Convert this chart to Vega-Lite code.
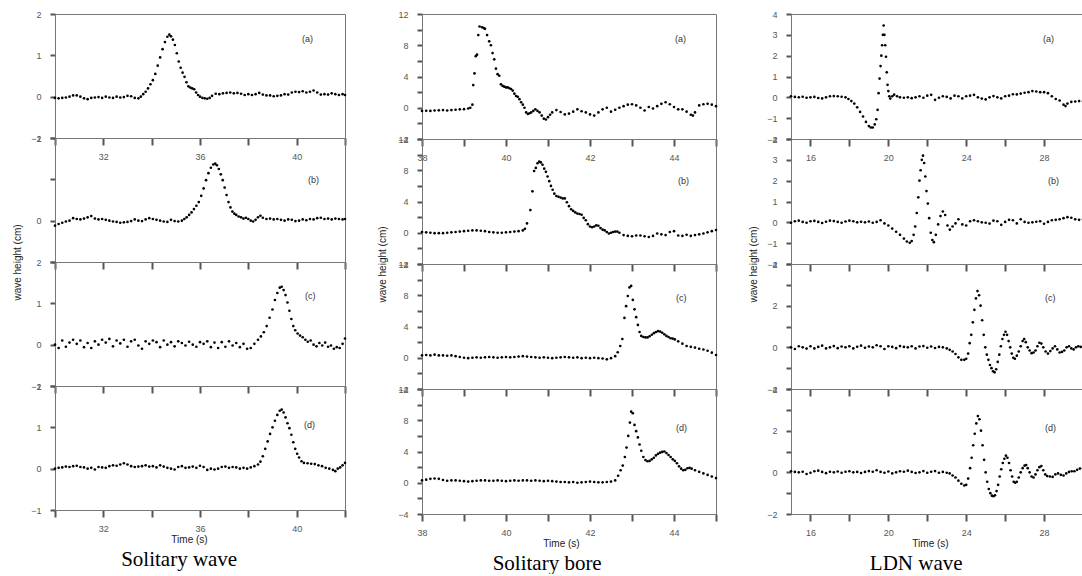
{
"$schema":"https://vega.github.io/schema/vega-lite/v6.json",
"padding":{"left":11,"top":9,"right":0,"bottom":0},
"config":{
 "font":"Liberation Sans",
 "view":{"stroke":"#777"},
 "title":{"font":"Liberation Sans","fontSize":9,"fontWeight":"normal","color":"#333"},
 "axis":{"grid":false,"ticks":true,"domain":true,"labelFont":"Liberation Sans","labelFontSize":9,"labelColor":"#555","domainColor":"#777","labelFlush":false,"labelOverlap":false,"labelBound":false,"titleFont":"Liberation Sans","titleFontSize":10,"titleFontWeight":"normal","titleColor":"#222"},
 "axisX":{"labelPadding":7},
 "axisY":{"labelPadding":9}
},
"datasets":{
"a1":[{"t":30,"h":-0.03},{"t":30.15,"h":-0.04},{"t":30.3,"h":-0.03},{"t":30.45,"h":-0.02},{"t":30.6,"h":0},{"t":30.75,"h":0.03},{"t":30.9,"h":0.03},{"t":31.05,"h":0},{"t":31.2,"h":-0.04},{"t":31.35,"h":-0.06},{"t":31.5,"h":-0.03},{"t":31.65,"h":-0.02},{"t":31.8,"h":-0.01},{"t":31.95,"h":-0.03},{"t":32.1,"h":0},{"t":32.25,"h":-0.02},{"t":32.4,"h":-0.03},{"t":32.55,"h":0},{"t":32.7,"h":-0.02},{"t":32.85,"h":-0.01},{"t":33,"h":0.02},{"t":33.15,"h":0.01},{"t":33.3,"h":-0.03},{"t":33.45,"h":-0.04},{"t":33.55,"h":0},{"t":33.65,"h":0.06},{"t":33.75,"h":0.12},{"t":33.85,"h":0.2},{"t":33.95,"h":0.3},{"t":34.05,"h":0.4},{"t":34.15,"h":0.55},{"t":34.25,"h":0.75},{"t":34.35,"h":0.95},{"t":34.45,"h":1.15},{"t":34.55,"h":1.32},{"t":34.65,"h":1.45},{"t":34.73,"h":1.5},{"t":34.8,"h":1.46},{"t":34.88,"h":1.38},{"t":34.96,"h":1.25},{"t":35.04,"h":1.05},{"t":35.12,"h":0.85},{"t":35.2,"h":0.7},{"t":35.28,"h":0.58},{"t":35.36,"h":0.48},{"t":35.44,"h":0.35},{"t":35.52,"h":0.25},{"t":35.6,"h":0.22},{"t":35.68,"h":0.2},{"t":35.76,"h":0.18},{"t":35.84,"h":0.1},{"t":35.92,"h":0.04},{"t":36,"h":0},{"t":36.1,"h":-0.03},{"t":36.2,"h":-0.04},{"t":36.3,"h":-0.05},{"t":36.4,"h":-0.03},{"t":36.5,"h":0.02},{"t":36.65,"h":0.07},{"t":36.8,"h":0.06},{"t":36.95,"h":0.08},{"t":37.1,"h":0.09},{"t":37.25,"h":0.1},{"t":37.4,"h":0.08},{"t":37.55,"h":0.09},{"t":37.7,"h":0.07},{"t":37.85,"h":0.04},{"t":38,"h":0.06},{"t":38.15,"h":0.04},{"t":38.3,"h":0.06},{"t":38.45,"h":0.09},{"t":38.6,"h":0.05},{"t":38.75,"h":0.03},{"t":38.9,"h":0.03},{"t":39.05,"h":0.01},{"t":39.2,"h":0.02},{"t":39.35,"h":0.03},{"t":39.5,"h":0.06},{"t":39.65,"h":0.05},{"t":39.8,"h":0.1},{"t":39.95,"h":0.12},{"t":40.1,"h":0.11},{"t":40.25,"h":0.13},{"t":40.4,"h":0.1},{"t":40.55,"h":0.12},{"t":40.7,"h":0.15},{"t":40.85,"h":0.1},{"t":41,"h":0.05},{"t":41.15,"h":0.06},{"t":41.3,"h":0.05},{"t":41.45,"h":0.08},{"t":41.6,"h":0.06},{"t":41.75,"h":0.04},{"t":41.9,"h":0.06},{"t":42,"h":0.04}],
"b1":[{"t":30,"h":-0.12},{"t":30.15,"h":-0.08},{"t":30.3,"h":-0.05},{"t":30.45,"h":-0.02},{"t":30.6,"h":0},{"t":30.75,"h":0.06},{"t":30.9,"h":0.04},{"t":31.05,"h":0.03},{"t":31.2,"h":0.05},{"t":31.35,"h":0.08},{"t":31.5,"h":0.11},{"t":31.65,"h":0.05},{"t":31.8,"h":0.03},{"t":31.95,"h":0.04},{"t":32.1,"h":0.02},{"t":32.25,"h":0},{"t":32.4,"h":-0.02},{"t":32.55,"h":-0.03},{"t":32.7,"h":-0.05},{"t":32.85,"h":-0.04},{"t":33,"h":-0.03},{"t":33.15,"h":-0.01},{"t":33.3,"h":0.03},{"t":33.45,"h":0},{"t":33.6,"h":-0.01},{"t":33.75,"h":0.03},{"t":33.9,"h":0.06},{"t":34.05,"h":0.04},{"t":34.2,"h":0.02},{"t":34.35,"h":0},{"t":34.5,"h":-0.02},{"t":34.65,"h":-0.03},{"t":34.8,"h":0.02},{"t":34.95,"h":-0.01},{"t":35.1,"h":-0.02},{"t":35.25,"h":0},{"t":35.35,"h":0.04},{"t":35.45,"h":0.08},{"t":35.55,"h":0.14},{"t":35.65,"h":0.2},{"t":35.75,"h":0.28},{"t":35.85,"h":0.36},{"t":35.95,"h":0.45},{"t":36.05,"h":0.6},{"t":36.15,"h":0.78},{"t":36.25,"h":0.98},{"t":36.35,"h":1.15},{"t":36.45,"h":1.28},{"t":36.55,"h":1.36},{"t":36.63,"h":1.38},{"t":36.7,"h":1.34},{"t":36.78,"h":1.25},{"t":36.86,"h":1.12},{"t":36.94,"h":0.98},{"t":37.02,"h":0.8},{"t":37.1,"h":0.62},{"t":37.18,"h":0.45},{"t":37.26,"h":0.32},{"t":37.34,"h":0.22},{"t":37.42,"h":0.17},{"t":37.5,"h":0.14},{"t":37.6,"h":0.1},{"t":37.7,"h":0.08},{"t":37.8,"h":0.05},{"t":37.9,"h":0.07},{"t":38,"h":0.04},{"t":38.1,"h":0},{"t":38.2,"h":-0.02},{"t":38.3,"h":0.02},{"t":38.4,"h":0.08},{"t":38.5,"h":0.12},{"t":38.6,"h":0.07},{"t":38.75,"h":0.04},{"t":38.9,"h":0.05},{"t":39.05,"h":0.03},{"t":39.2,"h":0.04},{"t":39.35,"h":0.02},{"t":39.5,"h":0},{"t":39.65,"h":0.03},{"t":39.8,"h":0.02},{"t":39.95,"h":-0.01},{"t":40.1,"h":0},{"t":40.25,"h":0.03},{"t":40.4,"h":0.01},{"t":40.55,"h":0.04},{"t":40.7,"h":0.03},{"t":40.85,"h":0.06},{"t":41,"h":0.07},{"t":41.15,"h":0.04},{"t":41.3,"h":0.05},{"t":41.45,"h":0.03},{"t":41.6,"h":0.05},{"t":41.75,"h":0.04},{"t":41.9,"h":0.03},{"t":42,"h":0.04}],
"c1":[{"t":30,"h":0},{"t":30.15,"h":-0.08},{"t":30.3,"h":0.1},{"t":30.45,"h":-0.05},{"t":30.6,"h":0.05},{"t":30.75,"h":0.12},{"t":30.9,"h":0.02},{"t":31.05,"h":0.1},{"t":31.2,"h":-0.06},{"t":31.35,"h":0.04},{"t":31.5,"h":-0.08},{"t":31.65,"h":0.08},{"t":31.8,"h":0},{"t":31.95,"h":0.12},{"t":32.1,"h":0.05},{"t":32.25,"h":0.14},{"t":32.4,"h":-0.04},{"t":32.55,"h":0.1},{"t":32.7,"h":0.03},{"t":32.85,"h":0.12},{"t":33,"h":-0.05},{"t":33.15,"h":0.08},{"t":33.3,"h":0.12},{"t":33.45,"h":-0.02},{"t":33.6,"h":-0.1},{"t":33.75,"h":0.08},{"t":33.9,"h":0.02},{"t":34.05,"h":0.1},{"t":34.2,"h":0.06},{"t":34.35,"h":-0.06},{"t":34.5,"h":0.1},{"t":34.65,"h":0},{"t":34.8,"h":0.06},{"t":34.95,"h":-0.04},{"t":35.1,"h":0.08},{"t":35.25,"h":0.04},{"t":35.4,"h":-0.02},{"t":35.55,"h":0.07},{"t":35.7,"h":0},{"t":35.85,"h":-0.05},{"t":36,"h":0.06},{"t":36.15,"h":0.02},{"t":36.3,"h":0.08},{"t":36.45,"h":-0.06},{"t":36.6,"h":0.05},{"t":36.75,"h":-0.08},{"t":36.9,"h":0.06},{"t":37.05,"h":-0.05},{"t":37.2,"h":0.08},{"t":37.35,"h":-0.02},{"t":37.5,"h":0.04},{"t":37.65,"h":-0.06},{"t":37.8,"h":0.02},{"t":37.95,"h":-0.1},{"t":38.1,"h":-0.08},{"t":38.25,"h":0.02},{"t":38.4,"h":0.12},{"t":38.52,"h":0.2},{"t":38.64,"h":0.3},{"t":38.76,"h":0.45},{"t":38.88,"h":0.65},{"t":39,"h":0.85},{"t":39.1,"h":1.08},{"t":39.2,"h":1.25},{"t":39.3,"h":1.38},{"t":39.38,"h":1.4},{"t":39.46,"h":1.32},{"t":39.54,"h":1.2},{"t":39.62,"h":1.02},{"t":39.7,"h":0.82},{"t":39.78,"h":0.62},{"t":39.86,"h":0.45},{"t":39.94,"h":0.35},{"t":40.04,"h":0.27},{"t":40.14,"h":0.22},{"t":40.25,"h":0.18},{"t":40.36,"h":0.12},{"t":40.46,"h":0.07},{"t":40.58,"h":0.1},{"t":40.7,"h":0},{"t":40.82,"h":-0.04},{"t":40.94,"h":0.04},{"t":41.06,"h":-0.02},{"t":41.18,"h":0.05},{"t":41.3,"h":-0.05},{"t":41.42,"h":-0.02},{"t":41.54,"h":-0.1},{"t":41.66,"h":-0.06},{"t":41.78,"h":-0.08},{"t":41.9,"h":0.02},{"t":42,"h":0.15}],
"d1":[{"t":30,"h":0},{"t":30.15,"h":0.02},{"t":30.3,"h":0.03},{"t":30.45,"h":0.05},{"t":30.6,"h":0.04},{"t":30.75,"h":0.06},{"t":30.9,"h":0.07},{"t":31.05,"h":0.04},{"t":31.2,"h":0.03},{"t":31.35,"h":0},{"t":31.5,"h":0.02},{"t":31.65,"h":-0.02},{"t":31.8,"h":0.04},{"t":31.95,"h":0.03},{"t":32.1,"h":0.02},{"t":32.25,"h":0.06},{"t":32.4,"h":0.08},{"t":32.55,"h":0.07},{"t":32.7,"h":0.1},{"t":32.85,"h":0.13},{"t":33,"h":0.1},{"t":33.15,"h":0.06},{"t":33.3,"h":0.04},{"t":33.45,"h":0.05},{"t":33.6,"h":0.06},{"t":33.75,"h":0.08},{"t":33.9,"h":0.05},{"t":34.05,"h":0.06},{"t":34.2,"h":0.03},{"t":34.35,"h":0.08},{"t":34.5,"h":0.05},{"t":34.65,"h":0.02},{"t":34.8,"h":0},{"t":34.95,"h":-0.02},{"t":35.1,"h":0.04},{"t":35.25,"h":0.06},{"t":35.4,"h":0.02},{"t":35.55,"h":0.03},{"t":35.7,"h":0.05},{"t":35.85,"h":0.02},{"t":36,"h":0.07},{"t":36.15,"h":0.04},{"t":36.3,"h":-0.03},{"t":36.45,"h":0},{"t":36.6,"h":-0.02},{"t":36.75,"h":0},{"t":36.9,"h":0.04},{"t":37.05,"h":0.05},{"t":37.2,"h":0.02},{"t":37.35,"h":0.04},{"t":37.5,"h":0.03},{"t":37.65,"h":0},{"t":37.8,"h":0.02},{"t":37.95,"h":0},{"t":38.1,"h":0.03},{"t":38.25,"h":0.06},{"t":38.4,"h":0.1},{"t":38.5,"h":0.17},{"t":38.6,"h":0.3},{"t":38.7,"h":0.48},{"t":38.8,"h":0.66},{"t":38.9,"h":0.84},{"t":39,"h":1},{"t":39.1,"h":1.16},{"t":39.2,"h":1.3},{"t":39.3,"h":1.4},{"t":39.38,"h":1.43},{"t":39.46,"h":1.36},{"t":39.54,"h":1.24},{"t":39.62,"h":1.1},{"t":39.7,"h":0.98},{"t":39.78,"h":0.82},{"t":39.86,"h":0.64},{"t":39.94,"h":0.48},{"t":40.02,"h":0.36},{"t":40.1,"h":0.27},{"t":40.2,"h":0.18},{"t":40.3,"h":0.14},{"t":40.45,"h":0.13},{"t":40.6,"h":0.12},{"t":40.75,"h":0.11},{"t":40.9,"h":0.08},{"t":41.05,"h":0.06},{"t":41.2,"h":0.02},{"t":41.35,"h":0},{"t":41.5,"h":-0.03},{"t":41.6,"h":-0.06},{"t":41.7,"h":0},{"t":41.8,"h":0.03},{"t":41.9,"h":0.08},{"t":42,"h":0.14}],
"a2":[{"t":38,"h":-0.4},{"t":38.1,"h":-0.38},{"t":38.2,"h":-0.4},{"t":38.3,"h":-0.35},{"t":38.4,"h":-0.33},{"t":38.5,"h":-0.3},{"t":38.6,"h":-0.35},{"t":38.7,"h":-0.3},{"t":38.8,"h":-0.25},{"t":38.9,"h":-0.2},{"t":39,"h":-0.18},{"t":39.1,"h":-0.1},{"t":39.15,"h":0},{"t":39.2,"h":0.4},{"t":39.22,"h":2.9},{"t":39.25,"h":4.4},{"t":39.28,"h":6.6},{"t":39.31,"h":6.8},{"t":39.34,"h":9.3},{"t":39.37,"h":10.4},{"t":39.43,"h":10.3},{"t":39.47,"h":10.2},{"t":39.5,"h":10.1},{"t":39.55,"h":9.3},{"t":39.6,"h":8.5},{"t":39.64,"h":8},{"t":39.68,"h":7},{"t":39.72,"h":6.2},{"t":39.76,"h":5},{"t":39.8,"h":4.3},{"t":39.84,"h":4.1},{"t":39.88,"h":3},{"t":39.92,"h":2.8},{"t":39.96,"h":2.7},{"t":40,"h":2.6},{"t":40.04,"h":2.6},{"t":40.08,"h":2.5},{"t":40.12,"h":2.4},{"t":40.16,"h":2.2},{"t":40.2,"h":1.8},{"t":40.24,"h":1.5},{"t":40.28,"h":1.4},{"t":40.32,"h":1.1},{"t":40.36,"h":0.7},{"t":40.4,"h":0.4},{"t":40.44,"h":0},{"t":40.48,"h":-0.6},{"t":40.52,"h":-0.8},{"t":40.56,"h":-0.7},{"t":40.6,"h":-0.6},{"t":40.65,"h":-0.4},{"t":40.7,"h":-0.2},{"t":40.75,"h":-0.4},{"t":40.8,"h":-0.6},{"t":40.85,"h":-1},{"t":40.9,"h":-1.4},{"t":40.95,"h":-1.5},{"t":41,"h":-1.2},{"t":41.05,"h":-0.9},{"t":41.1,"h":-0.6},{"t":41.2,"h":-0.3},{"t":41.3,"h":-0.55},{"t":41.4,"h":-0.85},{"t":41.5,"h":-0.75},{"t":41.6,"h":-0.5},{"t":41.7,"h":-0.2},{"t":41.8,"h":-0.45},{"t":41.9,"h":-0.6},{"t":42,"h":-0.85},{"t":42.1,"h":-1},{"t":42.2,"h":-0.6},{"t":42.3,"h":-0.2},{"t":42.4,"h":0},{"t":42.5,"h":-0.5},{"t":42.6,"h":-0.25},{"t":42.7,"h":0},{"t":42.8,"h":0.2},{"t":42.9,"h":0.4},{"t":43,"h":0.45},{"t":43.1,"h":0.3},{"t":43.2,"h":0},{"t":43.3,"h":-0.35},{"t":43.4,"h":0.1},{"t":43.5,"h":-0.1},{"t":43.6,"h":0.2},{"t":43.7,"h":0.5},{"t":43.8,"h":0.7},{"t":43.9,"h":0.45},{"t":44,"h":0.1},{"t":44.1,"h":-0.2},{"t":44.2,"h":-0.2},{"t":44.3,"h":-0.5},{"t":44.4,"h":-0.9},{"t":44.45,"h":-1},{"t":44.5,"h":-0.6},{"t":44.6,"h":0.3},{"t":44.7,"h":0.45},{"t":44.8,"h":0.5},{"t":44.9,"h":0.4},{"t":45,"h":0.2}],
"b2":[{"t":38,"h":0.1},{"t":38.1,"h":0.05},{"t":38.2,"h":0},{"t":38.3,"h":-0.05},{"t":38.4,"h":-0.05},{"t":38.5,"h":-0.05},{"t":38.6,"h":0},{"t":38.7,"h":0.05},{"t":38.8,"h":0.1},{"t":38.9,"h":0.15},{"t":39,"h":0.2},{"t":39.1,"h":0.25},{"t":39.2,"h":0.3},{"t":39.3,"h":0.3},{"t":39.4,"h":0.25},{"t":39.5,"h":0.2},{"t":39.6,"h":0.1},{"t":39.7,"h":0.05},{"t":39.8,"h":0},{"t":39.9,"h":0},{"t":40,"h":0.05},{"t":40.1,"h":0.1},{"t":40.2,"h":0.15},{"t":40.3,"h":0.2},{"t":40.4,"h":0.3},{"t":40.45,"h":0.5},{"t":40.5,"h":1.2},{"t":40.58,"h":2.9},{"t":40.63,"h":5.3},{"t":40.67,"h":7.9},{"t":40.71,"h":8.3},{"t":40.75,"h":8.9},{"t":40.79,"h":9.1},{"t":40.83,"h":9},{"t":40.87,"h":8.7},{"t":40.91,"h":8.2},{"t":40.95,"h":7.8},{"t":40.99,"h":7.2},{"t":41.03,"h":6.6},{"t":41.07,"h":6},{"t":41.11,"h":5.5},{"t":41.15,"h":5},{"t":41.2,"h":4.7},{"t":41.25,"h":4.6},{"t":41.3,"h":4.5},{"t":41.35,"h":4.4},{"t":41.4,"h":4.4},{"t":41.45,"h":3.9},{"t":41.5,"h":3.4},{"t":41.55,"h":3},{"t":41.6,"h":2.8},{"t":41.65,"h":2.6},{"t":41.7,"h":2.45},{"t":41.75,"h":2.4},{"t":41.8,"h":2.3},{"t":41.85,"h":1.9},{"t":41.9,"h":1.6},{"t":41.95,"h":1.1},{"t":42,"h":0.8},{"t":42.05,"h":0.7},{"t":42.1,"h":0.8},{"t":42.15,"h":0.95},{"t":42.2,"h":0.9},{"t":42.25,"h":0.6},{"t":42.3,"h":0.4},{"t":42.35,"h":0.3},{"t":42.4,"h":0.1},{"t":42.45,"h":-0.1},{"t":42.5,"h":0},{"t":42.55,"h":0.1},{"t":42.6,"h":0.15},{"t":42.65,"h":0.15},{"t":42.7,"h":0},{"t":42.8,"h":-0.3},{"t":42.9,"h":-0.4},{"t":43,"h":-0.45},{"t":43.1,"h":-0.35},{"t":43.2,"h":-0.35},{"t":43.3,"h":-0.45},{"t":43.4,"h":-0.55},{"t":43.5,"h":-0.4},{"t":43.6,"h":-0.1},{"t":43.7,"h":-0.2},{"t":43.8,"h":-0.3},{"t":43.9,"h":0.1},{"t":44,"h":0.2},{"t":44.1,"h":-0.35},{"t":44.2,"h":-0.4},{"t":44.3,"h":-0.25},{"t":44.4,"h":-0.4},{"t":44.5,"h":-0.3},{"t":44.6,"h":-0.2},{"t":44.7,"h":-0.1},{"t":44.8,"h":0.05},{"t":44.9,"h":0.2},{"t":45,"h":0.35}],
"c2":[{"t":38,"h":0.3},{"t":38.1,"h":0.35},{"t":38.2,"h":0.3},{"t":38.3,"h":0.4},{"t":38.4,"h":0.3},{"t":38.5,"h":0.3},{"t":38.6,"h":0.25},{"t":38.7,"h":0.3},{"t":38.8,"h":0.2},{"t":38.9,"h":0.1},{"t":39,"h":0},{"t":39.1,"h":-0.05},{"t":39.2,"h":0},{"t":39.3,"h":0.05},{"t":39.4,"h":0},{"t":39.5,"h":0.05},{"t":39.6,"h":0.1},{"t":39.7,"h":0.05},{"t":39.8,"h":0},{"t":39.9,"h":0.05},{"t":40,"h":0.1},{"t":40.1,"h":0.05},{"t":40.2,"h":0.1},{"t":40.3,"h":0.15},{"t":40.4,"h":0.2},{"t":40.5,"h":0.15},{"t":40.6,"h":0.1},{"t":40.7,"h":0.05},{"t":40.8,"h":0},{"t":40.9,"h":0.05},{"t":41,"h":0},{"t":41.1,"h":-0.05},{"t":41.2,"h":0},{"t":41.3,"h":0.05},{"t":41.4,"h":0.1},{"t":41.5,"h":0.05},{"t":41.6,"h":0},{"t":41.7,"h":0.05},{"t":41.8,"h":-0.05},{"t":41.9,"h":0},{"t":42,"h":-0.05},{"t":42.1,"h":0},{"t":42.2,"h":-0.05},{"t":42.3,"h":-0.1},{"t":42.4,"h":-0.2},{"t":42.5,"h":-0.05},{"t":42.6,"h":0.2},{"t":42.66,"h":0.7},{"t":42.72,"h":1.5},{"t":42.77,"h":2.4},{"t":42.82,"h":5.1},{"t":42.86,"h":6.6},{"t":42.9,"h":7.9},{"t":42.94,"h":9},{"t":42.98,"h":9.2},{"t":43.02,"h":7.4},{"t":43.06,"h":6.2},{"t":43.1,"h":5.2},{"t":43.14,"h":4.2},{"t":43.18,"h":3.3},{"t":43.22,"h":2.8},{"t":43.27,"h":2.65},{"t":43.32,"h":2.6},{"t":43.37,"h":2.6},{"t":43.42,"h":2.75},{"t":43.47,"h":2.95},{"t":43.52,"h":3.15},{"t":43.57,"h":3.3},{"t":43.62,"h":3.4},{"t":43.67,"h":3.35},{"t":43.72,"h":3.2},{"t":43.77,"h":3},{"t":43.82,"h":2.8},{"t":43.87,"h":2.65},{"t":43.92,"h":2.5},{"t":43.97,"h":2.45},{"t":44.02,"h":2.35},{"t":44.1,"h":2.1},{"t":44.2,"h":1.8},{"t":44.3,"h":1.5},{"t":44.4,"h":1.4},{"t":44.5,"h":1.3},{"t":44.6,"h":1.15},{"t":44.7,"h":1.05},{"t":44.8,"h":0.9},{"t":44.9,"h":0.65},{"t":45,"h":0.35}],
"d2":[{"t":38,"h":0.3},{"t":38.1,"h":0.4},{"t":38.2,"h":0.5},{"t":38.3,"h":0.55},{"t":38.4,"h":0.5},{"t":38.5,"h":0.35},{"t":38.6,"h":0.25},{"t":38.7,"h":0.3},{"t":38.8,"h":0.3},{"t":38.9,"h":0.25},{"t":39,"h":0.2},{"t":39.1,"h":0.15},{"t":39.2,"h":0.2},{"t":39.3,"h":0.25},{"t":39.4,"h":0.3},{"t":39.5,"h":0.3},{"t":39.6,"h":0.25},{"t":39.7,"h":0.25},{"t":39.8,"h":0.3},{"t":39.9,"h":0.25},{"t":40,"h":0.2},{"t":40.1,"h":0.25},{"t":40.2,"h":0.3},{"t":40.3,"h":0.25},{"t":40.4,"h":0.3},{"t":40.5,"h":0.3},{"t":40.6,"h":0.25},{"t":40.7,"h":0.3},{"t":40.8,"h":0.25},{"t":40.9,"h":0.2},{"t":41,"h":0.25},{"t":41.1,"h":0.2},{"t":41.2,"h":0.15},{"t":41.3,"h":0.1},{"t":41.4,"h":0.1},{"t":41.5,"h":0.05},{"t":41.6,"h":0.1},{"t":41.7,"h":0},{"t":41.8,"h":0.05},{"t":41.9,"h":0.1},{"t":42,"h":0.15},{"t":42.1,"h":0.1},{"t":42.2,"h":0.05},{"t":42.3,"h":0.05},{"t":42.4,"h":0.1},{"t":42.5,"h":0.15},{"t":42.6,"h":0.3},{"t":42.67,"h":0.9},{"t":42.73,"h":1.6},{"t":42.78,"h":2.2},{"t":42.83,"h":3.3},{"t":42.87,"h":4.5},{"t":42.91,"h":6},{"t":42.95,"h":7.7},{"t":42.98,"h":9.1},{"t":43.02,"h":8.9},{"t":43.06,"h":7.4},{"t":43.1,"h":6.6},{"t":43.14,"h":5.8},{"t":43.18,"h":4.9},{"t":43.22,"h":4.1},{"t":43.27,"h":3.3},{"t":43.32,"h":2.9},{"t":43.37,"h":2.75},{"t":43.42,"h":2.8},{"t":43.47,"h":3},{"t":43.52,"h":3.2},{"t":43.57,"h":3.5},{"t":43.62,"h":3.7},{"t":43.67,"h":3.85},{"t":43.72,"h":3.95},{"t":43.77,"h":4},{"t":43.82,"h":3.8},{"t":43.87,"h":3.55},{"t":43.92,"h":3.3},{"t":43.97,"h":3},{"t":44.02,"h":2.8},{"t":44.07,"h":2.5},{"t":44.12,"h":2.1},{"t":44.17,"h":1.8},{"t":44.22,"h":1.6},{"t":44.27,"h":1.65},{"t":44.32,"h":1.85},{"t":44.37,"h":1.9},{"t":44.42,"h":1.8},{"t":44.5,"h":1.6},{"t":44.6,"h":1.4},{"t":44.7,"h":1.2},{"t":44.8,"h":1},{"t":44.9,"h":0.8},{"t":45,"h":0.6}],
"a3":[{"t":15,"h":0.05},{"t":15.2,"h":0.02},{"t":15.4,"h":0},{"t":15.6,"h":0.03},{"t":15.8,"h":-0.02},{"t":16,"h":0},{"t":16.2,"h":0.02},{"t":16.4,"h":-0.03},{"t":16.6,"h":-0.05},{"t":16.8,"h":0},{"t":17,"h":0.05},{"t":17.2,"h":0.06},{"t":17.4,"h":0.05},{"t":17.6,"h":0.03},{"t":17.8,"h":0},{"t":17.95,"h":-0.08},{"t":18.1,"h":-0.18},{"t":18.25,"h":-0.3},{"t":18.4,"h":-0.48},{"t":18.55,"h":-0.7},{"t":18.7,"h":-0.92},{"t":18.85,"h":-1.18},{"t":19,"h":-1.38},{"t":19.1,"h":-1.45},{"t":19.2,"h":-1.45},{"t":19.3,"h":-1.3},{"t":19.38,"h":-1.05},{"t":19.45,"h":-0.6},{"t":19.5,"h":0.2},{"t":19.55,"h":0.9},{"t":19.6,"h":1.5},{"t":19.64,"h":2},{"t":19.68,"h":2.5},{"t":19.72,"h":3},{"t":19.76,"h":3.45},{"t":19.8,"h":3},{"t":19.84,"h":2.5},{"t":19.88,"h":1.95},{"t":19.92,"h":1.2},{"t":19.96,"h":0.6},{"t":20,"h":0.3},{"t":20.05,"h":0.05},{"t":20.1,"h":-0.06},{"t":20.2,"h":0.05},{"t":20.3,"h":0.13},{"t":20.45,"h":0.05},{"t":20.6,"h":0},{"t":20.8,"h":-0.02},{"t":21,"h":0},{"t":21.2,"h":-0.04},{"t":21.4,"h":0},{"t":21.6,"h":0.05},{"t":21.8,"h":-0.02},{"t":22,"h":0.08},{"t":22.2,"h":0.12},{"t":22.4,"h":-0.12},{"t":22.6,"h":-0.02},{"t":22.8,"h":0.05},{"t":23,"h":0.02},{"t":23.2,"h":-0.05},{"t":23.4,"h":0.08},{"t":23.6,"h":0.05},{"t":23.8,"h":-0.05},{"t":24,"h":0.05},{"t":24.2,"h":0.08},{"t":24.4,"h":0.12},{"t":24.6,"h":0},{"t":24.8,"h":-0.06},{"t":25,"h":-0.1},{"t":25.2,"h":0},{"t":25.4,"h":0.06},{"t":25.6,"h":0},{"t":25.8,"h":-0.05},{"t":26,"h":0.05},{"t":26.2,"h":0.08},{"t":26.4,"h":0.15},{"t":26.6,"h":0.14},{"t":26.8,"h":0.18},{"t":27,"h":0.22},{"t":27.2,"h":0.25},{"t":27.4,"h":0.3},{"t":27.6,"h":0.28},{"t":27.8,"h":0.25},{"t":28,"h":0.25},{"t":28.2,"h":0.2},{"t":28.4,"h":0.05},{"t":28.6,"h":-0.08},{"t":28.8,"h":-0.15},{"t":29,"h":-0.35},{"t":29.1,"h":-0.42},{"t":29.2,"h":-0.3},{"t":29.4,"h":-0.22},{"t":29.6,"h":-0.2},{"t":29.8,"h":-0.18},{"t":30,"h":-0.2}],
"b3":[{"t":15,"h":-0.02},{"t":15.2,"h":0.05},{"t":15.4,"h":0.08},{"t":15.6,"h":0.02},{"t":15.8,"h":-0.02},{"t":16,"h":0.05},{"t":16.2,"h":0.07},{"t":16.4,"h":0.02},{"t":16.6,"h":-0.03},{"t":16.8,"h":0.03},{"t":17,"h":0.08},{"t":17.2,"h":0.06},{"t":17.4,"h":0.02},{"t":17.6,"h":-0.02},{"t":17.8,"h":0.04},{"t":18,"h":0.08},{"t":18.2,"h":0.05},{"t":18.4,"h":0},{"t":18.6,"h":0.03},{"t":18.8,"h":0},{"t":19,"h":0.04},{"t":19.2,"h":-0.02},{"t":19.4,"h":0.02},{"t":19.6,"h":0.1},{"t":19.8,"h":-0.05},{"t":20,"h":-0.15},{"t":20.2,"h":-0.3},{"t":20.4,"h":-0.45},{"t":20.6,"h":-0.6},{"t":20.8,"h":-0.78},{"t":20.95,"h":-0.92},{"t":21.1,"h":-0.98},{"t":21.2,"h":-0.9},{"t":21.3,"h":-0.6},{"t":21.38,"h":-0.2},{"t":21.46,"h":0.45},{"t":21.54,"h":1.2},{"t":21.6,"h":2},{"t":21.66,"h":2.5},{"t":21.72,"h":3},{"t":21.78,"h":3.2},{"t":21.84,"h":2.85},{"t":21.9,"h":2.2},{"t":21.96,"h":1.5},{"t":22.03,"h":0.9},{"t":22.1,"h":0.2},{"t":22.18,"h":-0.5},{"t":22.26,"h":-0.85},{"t":22.34,"h":-0.95},{"t":22.44,"h":-0.6},{"t":22.56,"h":-0.1},{"t":22.68,"h":0.3},{"t":22.8,"h":0.52},{"t":22.92,"h":0.35},{"t":23.04,"h":-0.15},{"t":23.16,"h":-0.35},{"t":23.3,"h":-0.2},{"t":23.45,"h":-0.05},{"t":23.6,"h":0.15},{"t":23.8,"h":-0.1},{"t":24,"h":-0.15},{"t":24.2,"h":0.05},{"t":24.4,"h":0.1},{"t":24.6,"h":0.05},{"t":24.8,"h":0},{"t":25,"h":-0.02},{"t":25.2,"h":-0.06},{"t":25.4,"h":0.08},{"t":25.6,"h":0.05},{"t":25.8,"h":-0.12},{"t":26,"h":0.02},{"t":26.2,"h":0.12},{"t":26.4,"h":0.1},{"t":26.6,"h":-0.05},{"t":26.8,"h":0.15},{"t":27,"h":0.02},{"t":27.2,"h":-0.02},{"t":27.4,"h":0},{"t":27.6,"h":0.03},{"t":27.8,"h":0.05},{"t":28,"h":-0.07},{"t":28.2,"h":0.02},{"t":28.4,"h":0.1},{"t":28.6,"h":0.12},{"t":28.8,"h":0.15},{"t":29,"h":0.2},{"t":29.2,"h":0.25},{"t":29.4,"h":0.22},{"t":29.6,"h":0.15},{"t":29.8,"h":0.12},{"t":30,"h":0.15}],
"c3":[{"t":15,"h":0},{"t":15.2,"h":-0.08},{"t":15.4,"h":0.05},{"t":15.6,"h":0},{"t":15.8,"h":-0.06},{"t":16,"h":0.05},{"t":16.2,"h":-0.05},{"t":16.4,"h":0.02},{"t":16.6,"h":0.08},{"t":16.8,"h":-0.05},{"t":17,"h":0},{"t":17.2,"h":0.06},{"t":17.4,"h":-0.04},{"t":17.6,"h":0.04},{"t":17.8,"h":0},{"t":18,"h":0.05},{"t":18.2,"h":-0.05},{"t":18.4,"h":0.03},{"t":18.6,"h":0.08},{"t":18.8,"h":-0.02},{"t":19,"h":0.04},{"t":19.2,"h":0},{"t":19.4,"h":0.1},{"t":19.6,"h":0.05},{"t":19.8,"h":-0.08},{"t":20,"h":0.05},{"t":20.2,"h":0.02},{"t":20.4,"h":-0.04},{"t":20.6,"h":0.06},{"t":20.8,"h":0.02},{"t":21,"h":0},{"t":21.2,"h":0.05},{"t":21.4,"h":-0.05},{"t":21.6,"h":0.04},{"t":21.8,"h":0.06},{"t":22,"h":-0.02},{"t":22.2,"h":0.04},{"t":22.4,"h":-0.03},{"t":22.6,"h":0.02},{"t":22.8,"h":0},{"t":23,"h":-0.05},{"t":23.15,"h":-0.12},{"t":23.3,"h":-0.2},{"t":23.45,"h":-0.32},{"t":23.6,"h":-0.48},{"t":23.75,"h":-0.6},{"t":23.9,"h":-0.6},{"t":24,"h":-0.55},{"t":24.1,"h":-0.3},{"t":24.18,"h":0.2},{"t":24.26,"h":0.6},{"t":24.34,"h":1.2},{"t":24.42,"h":1.8},{"t":24.5,"h":2.35},{"t":24.58,"h":2.7},{"t":24.66,"h":2.5},{"t":24.74,"h":2},{"t":24.82,"h":1.3},{"t":24.9,"h":0.6},{"t":24.98,"h":0},{"t":25.06,"h":-0.35},{"t":25.14,"h":-0.6},{"t":25.22,"h":-0.85},{"t":25.3,"h":-1},{"t":25.38,"h":-1.15},{"t":25.46,"h":-1.2},{"t":25.54,"h":-1.05},{"t":25.62,"h":-0.7},{"t":25.7,"h":-0.35},{"t":25.78,"h":0.05},{"t":25.86,"h":0.4},{"t":25.94,"h":0.6},{"t":26.02,"h":0.75},{"t":26.1,"h":0.6},{"t":26.18,"h":0.3},{"t":26.26,"h":0},{"t":26.34,"h":-0.3},{"t":26.42,"h":-0.5},{"t":26.5,"h":-0.55},{"t":26.6,"h":-0.4},{"t":26.7,"h":-0.2},{"t":26.8,"h":0.05},{"t":26.9,"h":0.3},{"t":26.98,"h":0.4},{"t":27.06,"h":0.25},{"t":27.16,"h":0},{"t":27.26,"h":-0.15},{"t":27.36,"h":-0.28},{"t":27.46,"h":-0.25},{"t":27.56,"h":-0.15},{"t":27.66,"h":0.05},{"t":27.76,"h":0.22},{"t":27.86,"h":0.18},{"t":27.96,"h":0},{"t":28.08,"h":-0.2},{"t":28.2,"h":-0.3},{"t":28.32,"h":-0.18},{"t":28.44,"h":-0.05},{"t":28.56,"h":0.05},{"t":28.68,"h":-0.1},{"t":28.8,"h":-0.25},{"t":28.92,"h":-0.22},{"t":29.04,"h":-0.15},{"t":29.16,"h":0},{"t":29.28,"h":0.05},{"t":29.4,"h":-0.05},{"t":29.52,"h":-0.1},{"t":29.64,"h":0},{"t":29.76,"h":0.05},{"t":29.88,"h":0.02},{"t":30,"h":0}],
"d3":[{"t":15,"h":0.05},{"t":15.2,"h":0.02},{"t":15.4,"h":0},{"t":15.6,"h":0.03},{"t":15.8,"h":-0.08},{"t":16,"h":-0.02},{"t":16.2,"h":0.05},{"t":16.4,"h":0.08},{"t":16.6,"h":0.02},{"t":16.8,"h":-0.04},{"t":17,"h":0.03},{"t":17.2,"h":0},{"t":17.4,"h":0.04},{"t":17.6,"h":-0.02},{"t":17.8,"h":0.03},{"t":18,"h":0.05},{"t":18.2,"h":0},{"t":18.4,"h":0.02},{"t":18.6,"h":-0.03},{"t":18.8,"h":0.02},{"t":19,"h":0.06},{"t":19.2,"h":0.03},{"t":19.4,"h":0.1},{"t":19.6,"h":0.02},{"t":19.8,"h":-0.02},{"t":20,"h":0.04},{"t":20.2,"h":-0.05},{"t":20.4,"h":0},{"t":20.6,"h":0.05},{"t":20.8,"h":0.03},{"t":21,"h":0.08},{"t":21.2,"h":0.02},{"t":21.4,"h":-0.03},{"t":21.6,"h":0},{"t":21.8,"h":0.06},{"t":22,"h":-0.02},{"t":22.2,"h":0.03},{"t":22.4,"h":0.06},{"t":22.6,"h":-0.02},{"t":22.8,"h":0.02},{"t":23,"h":-0.02},{"t":23.15,"h":-0.05},{"t":23.3,"h":-0.15},{"t":23.45,"h":-0.25},{"t":23.6,"h":-0.4},{"t":23.75,"h":-0.55},{"t":23.9,"h":-0.63},{"t":24,"h":-0.6},{"t":24.1,"h":-0.3},{"t":24.2,"h":0.2},{"t":24.28,"h":0.7},{"t":24.36,"h":1.3},{"t":24.44,"h":1.85},{"t":24.52,"h":2.35},{"t":24.6,"h":2.7},{"t":24.68,"h":2.55},{"t":24.76,"h":2},{"t":24.84,"h":1.3},{"t":24.92,"h":0.6},{"t":25,"h":0},{"t":25.08,"h":-0.45},{"t":25.16,"h":-0.8},{"t":25.24,"h":-1},{"t":25.32,"h":-1.12},{"t":25.4,"h":-1.15},{"t":25.48,"h":-1.1},{"t":25.56,"h":-0.9},{"t":25.64,"h":-0.6},{"t":25.72,"h":-0.2},{"t":25.8,"h":0.15},{"t":25.88,"h":0.45},{"t":25.96,"h":0.65},{"t":26.04,"h":0.8},{"t":26.12,"h":0.7},{"t":26.2,"h":0.45},{"t":26.28,"h":0.1},{"t":26.36,"h":-0.2},{"t":26.44,"h":-0.45},{"t":26.52,"h":-0.5},{"t":26.6,"h":-0.45},{"t":26.7,"h":-0.25},{"t":26.8,"h":0},{"t":26.9,"h":0.2},{"t":27,"h":0.32},{"t":27.08,"h":0.35},{"t":27.16,"h":0.2},{"t":27.26,"h":0},{"t":27.36,"h":-0.2},{"t":27.46,"h":-0.25},{"t":27.56,"h":-0.1},{"t":27.66,"h":0.1},{"t":27.76,"h":0.25},{"t":27.86,"h":0.3},{"t":27.96,"h":0.1},{"t":28.06,"h":-0.1},{"t":28.16,"h":-0.18},{"t":28.3,"h":-0.2},{"t":28.44,"h":-0.22},{"t":28.58,"h":-0.1},{"t":28.72,"h":-0.05},{"t":28.86,"h":-0.12},{"t":29,"h":-0.15},{"t":29.14,"h":-0.05},{"t":29.28,"h":0.02},{"t":29.42,"h":0.05},{"t":29.56,"h":0.05},{"t":29.7,"h":0.12},{"t":29.84,"h":0.18},{"t":30,"h":0.2}]
},
"spacing":29,
"hconcat":[
 {"vconcat":[
  {"width":290,"height":124,"data":{"name":"a1"},"mark":{"type":"circle","size":7,"color":"#000","opacity":1},
   "title":{"text":"(a)","orient":"top","anchor":"start","frame":"group","offset":-38,"dx":247,"baseline":"middle"},
   "encoding":{
    "x":{"field":"t","type":"quantitative","scale":{"domain":[30,42],"nice":false,"zero":false},"axis":{"values":[30,32,34,36,38,40,42],"tickColor":"#555","tickWidth":2,"tickSize":7,"labelOverlap":false,"labelExpr":"indexof([32,36,40],datum.value)>=0?datum.label:''","title":null}},
    "y":{"field":"h","type":"quantitative","scale":{"domain":[-1,2],"nice":false,"zero":false},"axis":{"values":[-1,-0.5,0,0.5,1,1.5,2],"tickColor":"#555","tickWidth":2,"tickSize":5,"format":"d","labelOverlap":false,"labelExpr":"datum.value%1==0?datum.label:''","title":null}}}},
  {"width":290,"height":124,"data":{"name":"b1"},"mark":{"type":"circle","size":7,"color":"#000","opacity":1},
   "title":{"text":"(b)","orient":"top","anchor":"start","frame":"group","offset":-55,"dx":253,"baseline":"middle"},
   "encoding":{
    "x":{"field":"t","type":"quantitative","scale":{"domain":[30,42],"nice":false,"zero":false},"axis":{"values":[30,32,34,36,38,40,42],"tickColor":"#555","tickWidth":2,"tickSize":7,"labelOverlap":false,"labels":false,"title":null}},
    "y":{"field":"h","type":"quantitative","scale":{"domain":[-1,2],"nice":false,"zero":false},"axis":{"values":[-1,-0.5,0,0.5,1,1.5,2],"tickColor":"#555","tickWidth":2,"tickSize":5,"format":"d","labelOverlap":false,"labelExpr":"datum.value==0||datum.value==2?datum.label:''","title":"wave height (cm)","titleX":-38,"titleY":124,"titleAngle":270,"titleAlign":"center","titleBaseline":"middle"}}}},
  {"width":290,"height":124,"data":{"name":"c1"},"mark":{"type":"circle","size":7,"color":"#000","opacity":1},
   "title":{"text":"(c)","orient":"top","anchor":"start","frame":"group","offset":-47,"dx":250,"baseline":"middle"},
   "encoding":{
    "x":{"field":"t","type":"quantitative","scale":{"domain":[30,42],"nice":false,"zero":false},"axis":{"values":[30,32,34,36,38,40,42],"tickColor":"#555","tickWidth":2,"tickSize":7,"labelOverlap":false,"labels":false,"title":null}},
    "y":{"field":"h","type":"quantitative","scale":{"domain":[-1,2],"nice":false,"zero":false},"axis":{"values":[-1,-0.5,0,0.5,1,1.5,2],"tickColor":"#555","tickWidth":2,"tickSize":5,"format":"d","labelOverlap":false,"labelExpr":"datum.value%1==0?datum.label:''","title":null}}}},
  {"width":290,"height":124,"data":{"name":"d1"},"mark":{"type":"circle","size":7,"color":"#000","opacity":1},
   "title":{"text":"(d)","orient":"top","anchor":"start","frame":"group","offset":-52,"dx":249,"baseline":"middle"},
   "encoding":{
    "x":{"field":"t","type":"quantitative","scale":{"domain":[30,42],"nice":false,"zero":false},"axis":{"values":[30,32,34,36,38,40,42],"tickColor":"#555","tickWidth":2,"tickSize":7,"labelOverlap":false,"labelExpr":"indexof([32,36,40],datum.value)>=0?datum.label:''","title":"Time (s)","titleX":134,"titleY":29,"titleAlign":"center","titleBaseline":"middle"}},
    "y":{"field":"h","type":"quantitative","scale":{"domain":[-1,2],"nice":false,"zero":false},"axis":{"values":[-1,-0.5,0,0.5,1,1.5,2],"tickColor":"#555","tickWidth":2,"tickSize":5,"format":"d","labelOverlap":false,"labelExpr":"datum.value%1==0?datum.label:''","title":null}}}}
 ],"spacing":0,"bounds":"flush","title":{"text":"Solitary wave","orient":"bottom","anchor":"middle","font":"Liberation Serif","fontSize":21,"fontWeight":"normal","color":"#000","offset":4}},
 {"vconcat":[
  {"width":294,"height":125,"data":{"name":"a2"},"mark":{"type":"circle","size":7,"color":"#000","opacity":1},
   "title":{"text":"(a)","orient":"top","anchor":"start","frame":"group","offset":-38,"dx":253,"baseline":"middle"},
   "encoding":{
    "x":{"field":"t","type":"quantitative","scale":{"domain":[38,45],"nice":false,"zero":false},"axis":{"values":[38,39,40,41,42,43,44,45],"tickColor":"#555","tickWidth":2,"tickSize":7,"labelOverlap":false,"labelExpr":"datum.value%2==0?datum.label:''","title":null}},
    "y":{"field":"h","type":"quantitative","scale":{"domain":[-4,12],"nice":false,"zero":false},"axis":{"values":[-4,-2,0,2,4,6,8,10,12],"tickColor":"#555","tickWidth":2,"tickSize":5,"labelOverlap":false,"labelExpr":"datum.value%4==0?datum.label:''","title":null}}}},
  {"width":294,"height":125,"data":{"name":"b2"},"mark":{"type":"circle","size":7,"color":"#000","opacity":1},
   "title":{"text":"(b)","orient":"top","anchor":"start","frame":"group","offset":-55,"dx":256,"baseline":"middle"},
   "encoding":{
    "x":{"field":"t","type":"quantitative","scale":{"domain":[38,45],"nice":false,"zero":false},"axis":{"values":[38,39,40,41,42,43,44,45],"tickColor":"#555","tickWidth":2,"tickSize":7,"labelOverlap":false,"labels":false,"title":null}},
    "y":{"field":"h","type":"quantitative","scale":{"domain":[-4,12],"nice":false,"zero":false},"axis":{"values":[-4,-2,0,2,4,6,8,10,12],"tickColor":"#555","tickWidth":2,"tickSize":5,"labelOverlap":false,"labelExpr":"datum.value%4==0?datum.label:''","title":"wave height (cm)","titleX":-40,"titleY":125,"titleAngle":270,"titleAlign":"center","titleBaseline":"middle"}}}},
  {"width":294,"height":125,"data":{"name":"c2"},"mark":{"type":"circle","size":7,"color":"#000","opacity":1},
   "title":{"text":"(c)","orient":"top","anchor":"start","frame":"group","offset":-47,"dx":254,"baseline":"middle"},
   "encoding":{
    "x":{"field":"t","type":"quantitative","scale":{"domain":[38,45],"nice":false,"zero":false},"axis":{"values":[38,39,40,41,42,43,44,45],"tickColor":"#555","tickWidth":2,"tickSize":7,"labelOverlap":false,"labels":false,"title":null}},
    "y":{"field":"h","type":"quantitative","scale":{"domain":[-4,12],"nice":false,"zero":false},"axis":{"values":[-4,-2,0,2,4,6,8,10,12],"tickColor":"#555","tickWidth":2,"tickSize":5,"labelOverlap":false,"labelExpr":"datum.value%4==0?datum.label:''","title":null}}}},
  {"width":294,"height":125,"data":{"name":"d2"},"mark":{"type":"circle","size":7,"color":"#000","opacity":1},
   "title":{"text":"(d)","orient":"top","anchor":"start","frame":"group","offset":-52,"dx":254,"baseline":"middle"},
   "encoding":{
    "x":{"field":"t","type":"quantitative","scale":{"domain":[38,45],"nice":false,"zero":false},"axis":{"values":[38,39,40,41,42,43,44,45],"tickColor":"#555","tickWidth":2,"tickSize":7,"labelOverlap":false,"labelExpr":"datum.value%2==0?datum.label:''","title":"Time (s)","titleX":139,"titleY":29,"titleAlign":"center","titleBaseline":"middle"}},
    "y":{"field":"h","type":"quantitative","scale":{"domain":[-4,12],"nice":false,"zero":false},"axis":{"values":[-4,-2,0,2,4,6,8,10,12],"tickColor":"#555","tickWidth":2,"tickSize":5,"labelOverlap":false,"labelExpr":"datum.value%4==0?datum.label:''","title":null}}}}
 ],"spacing":0,"bounds":"flush","title":{"text":"Solitary bore","orient":"bottom","anchor":"middle","font":"Liberation Serif","fontSize":21,"fontWeight":"normal","color":"#000","offset":4}},
 {"vconcat":[
  {"width":292,"height":125,"data":{"name":"a3"},"mark":{"type":"circle","size":7,"color":"#000","opacity":1},
   "title":{"text":"(a)","orient":"top","anchor":"start","frame":"group","offset":-38,"dx":252,"baseline":"middle"},
   "encoding":{
    "x":{"field":"t","type":"quantitative","scale":{"domain":[15,30],"nice":false,"zero":false},"axis":{"values":[16,18,20,22,24,26,28,30],"tickColor":"#555","tickWidth":2,"tickSize":7,"labelOverlap":false,"labelExpr":"datum.value%4==0?datum.label:''","title":null}},
    "y":{"field":"h","type":"quantitative","scale":{"domain":[-2,4],"nice":false,"zero":false},"axis":{"values":[-2,-1.5,-1,-0.5,0,0.5,1,1.5,2,2.5,3,3.5,4],"tickColor":"#555","tickWidth":2,"tickSize":5,"format":"d","labelOverlap":false,"labelExpr":"datum.value%1==0?datum.label:''","title":null}}}},
  {"width":292,"height":125,"data":{"name":"b3"},"mark":{"type":"circle","size":7,"color":"#000","opacity":1},
   "title":{"text":"(b)","orient":"top","anchor":"start","frame":"group","offset":-55,"dx":257,"baseline":"middle"},
   "encoding":{
    "x":{"field":"t","type":"quantitative","scale":{"domain":[15,30],"nice":false,"zero":false},"axis":{"values":[16,18,20,22,24,26,28,30],"tickColor":"#555","tickWidth":2,"tickSize":7,"labelOverlap":false,"labels":false,"title":null}},
    "y":{"field":"h","type":"quantitative","scale":{"domain":[-2,4],"nice":false,"zero":false},"axis":{"values":[-2,-1.5,-1,-0.5,0,0.5,1,1.5,2,2.5,3,3.5,4],"tickColor":"#555","tickWidth":2,"tickSize":5,"format":"d","labelOverlap":false,"labelExpr":"datum.value%1==0?datum.label:''","title":"wave height (cm)","titleX":-38,"titleY":125,"titleAngle":270,"titleAlign":"center","titleBaseline":"middle"}}}},
  {"width":292,"height":125,"data":{"name":"c3"},"mark":{"type":"circle","size":7,"color":"#000","opacity":1},
   "title":{"text":"(c)","orient":"top","anchor":"start","frame":"group","offset":-47,"dx":254,"baseline":"middle"},
   "encoding":{
    "x":{"field":"t","type":"quantitative","scale":{"domain":[15,30],"nice":false,"zero":false},"axis":{"values":[16,18,20,22,24,26,28,30],"tickColor":"#555","tickWidth":2,"tickSize":7,"labelOverlap":false,"labels":false,"title":null}},
    "y":{"field":"h","type":"quantitative","scale":{"domain":[-2,4],"nice":false,"zero":false},"axis":{"values":[-2,-1,0,1,2,3,4],"tickColor":"#555","tickWidth":2,"tickSize":5,"labelOverlap":false,"labelExpr":"datum.value%2==0?datum.label:''","title":null}}}},
  {"width":292,"height":125,"data":{"name":"d3"},"mark":{"type":"circle","size":7,"color":"#000","opacity":1},
   "title":{"text":"(d)","orient":"top","anchor":"start","frame":"group","offset":-52,"dx":254,"baseline":"middle"},
   "encoding":{
    "x":{"field":"t","type":"quantitative","scale":{"domain":[15,30],"nice":false,"zero":false},"axis":{"values":[16,18,20,22,24,26,28,30],"tickColor":"#555","tickWidth":2,"tickSize":7,"labelOverlap":false,"labelExpr":"datum.value%4==0?datum.label:''","title":"Time (s)","titleX":139,"titleY":29,"titleAlign":"center","titleBaseline":"middle"}},
    "y":{"field":"h","type":"quantitative","scale":{"domain":[-2,4],"nice":false,"zero":false},"axis":{"values":[-2,-1,0,1,2,3,4],"tickColor":"#555","tickWidth":2,"tickSize":5,"labelOverlap":false,"labelExpr":"datum.value%2==0?datum.label:''","title":null}}}}
 ],"spacing":0,"bounds":"flush","title":{"text":"LDN wave","orient":"bottom","anchor":"middle","font":"Liberation Serif","fontSize":21,"fontWeight":"normal","color":"#000","offset":4}}
]
}
